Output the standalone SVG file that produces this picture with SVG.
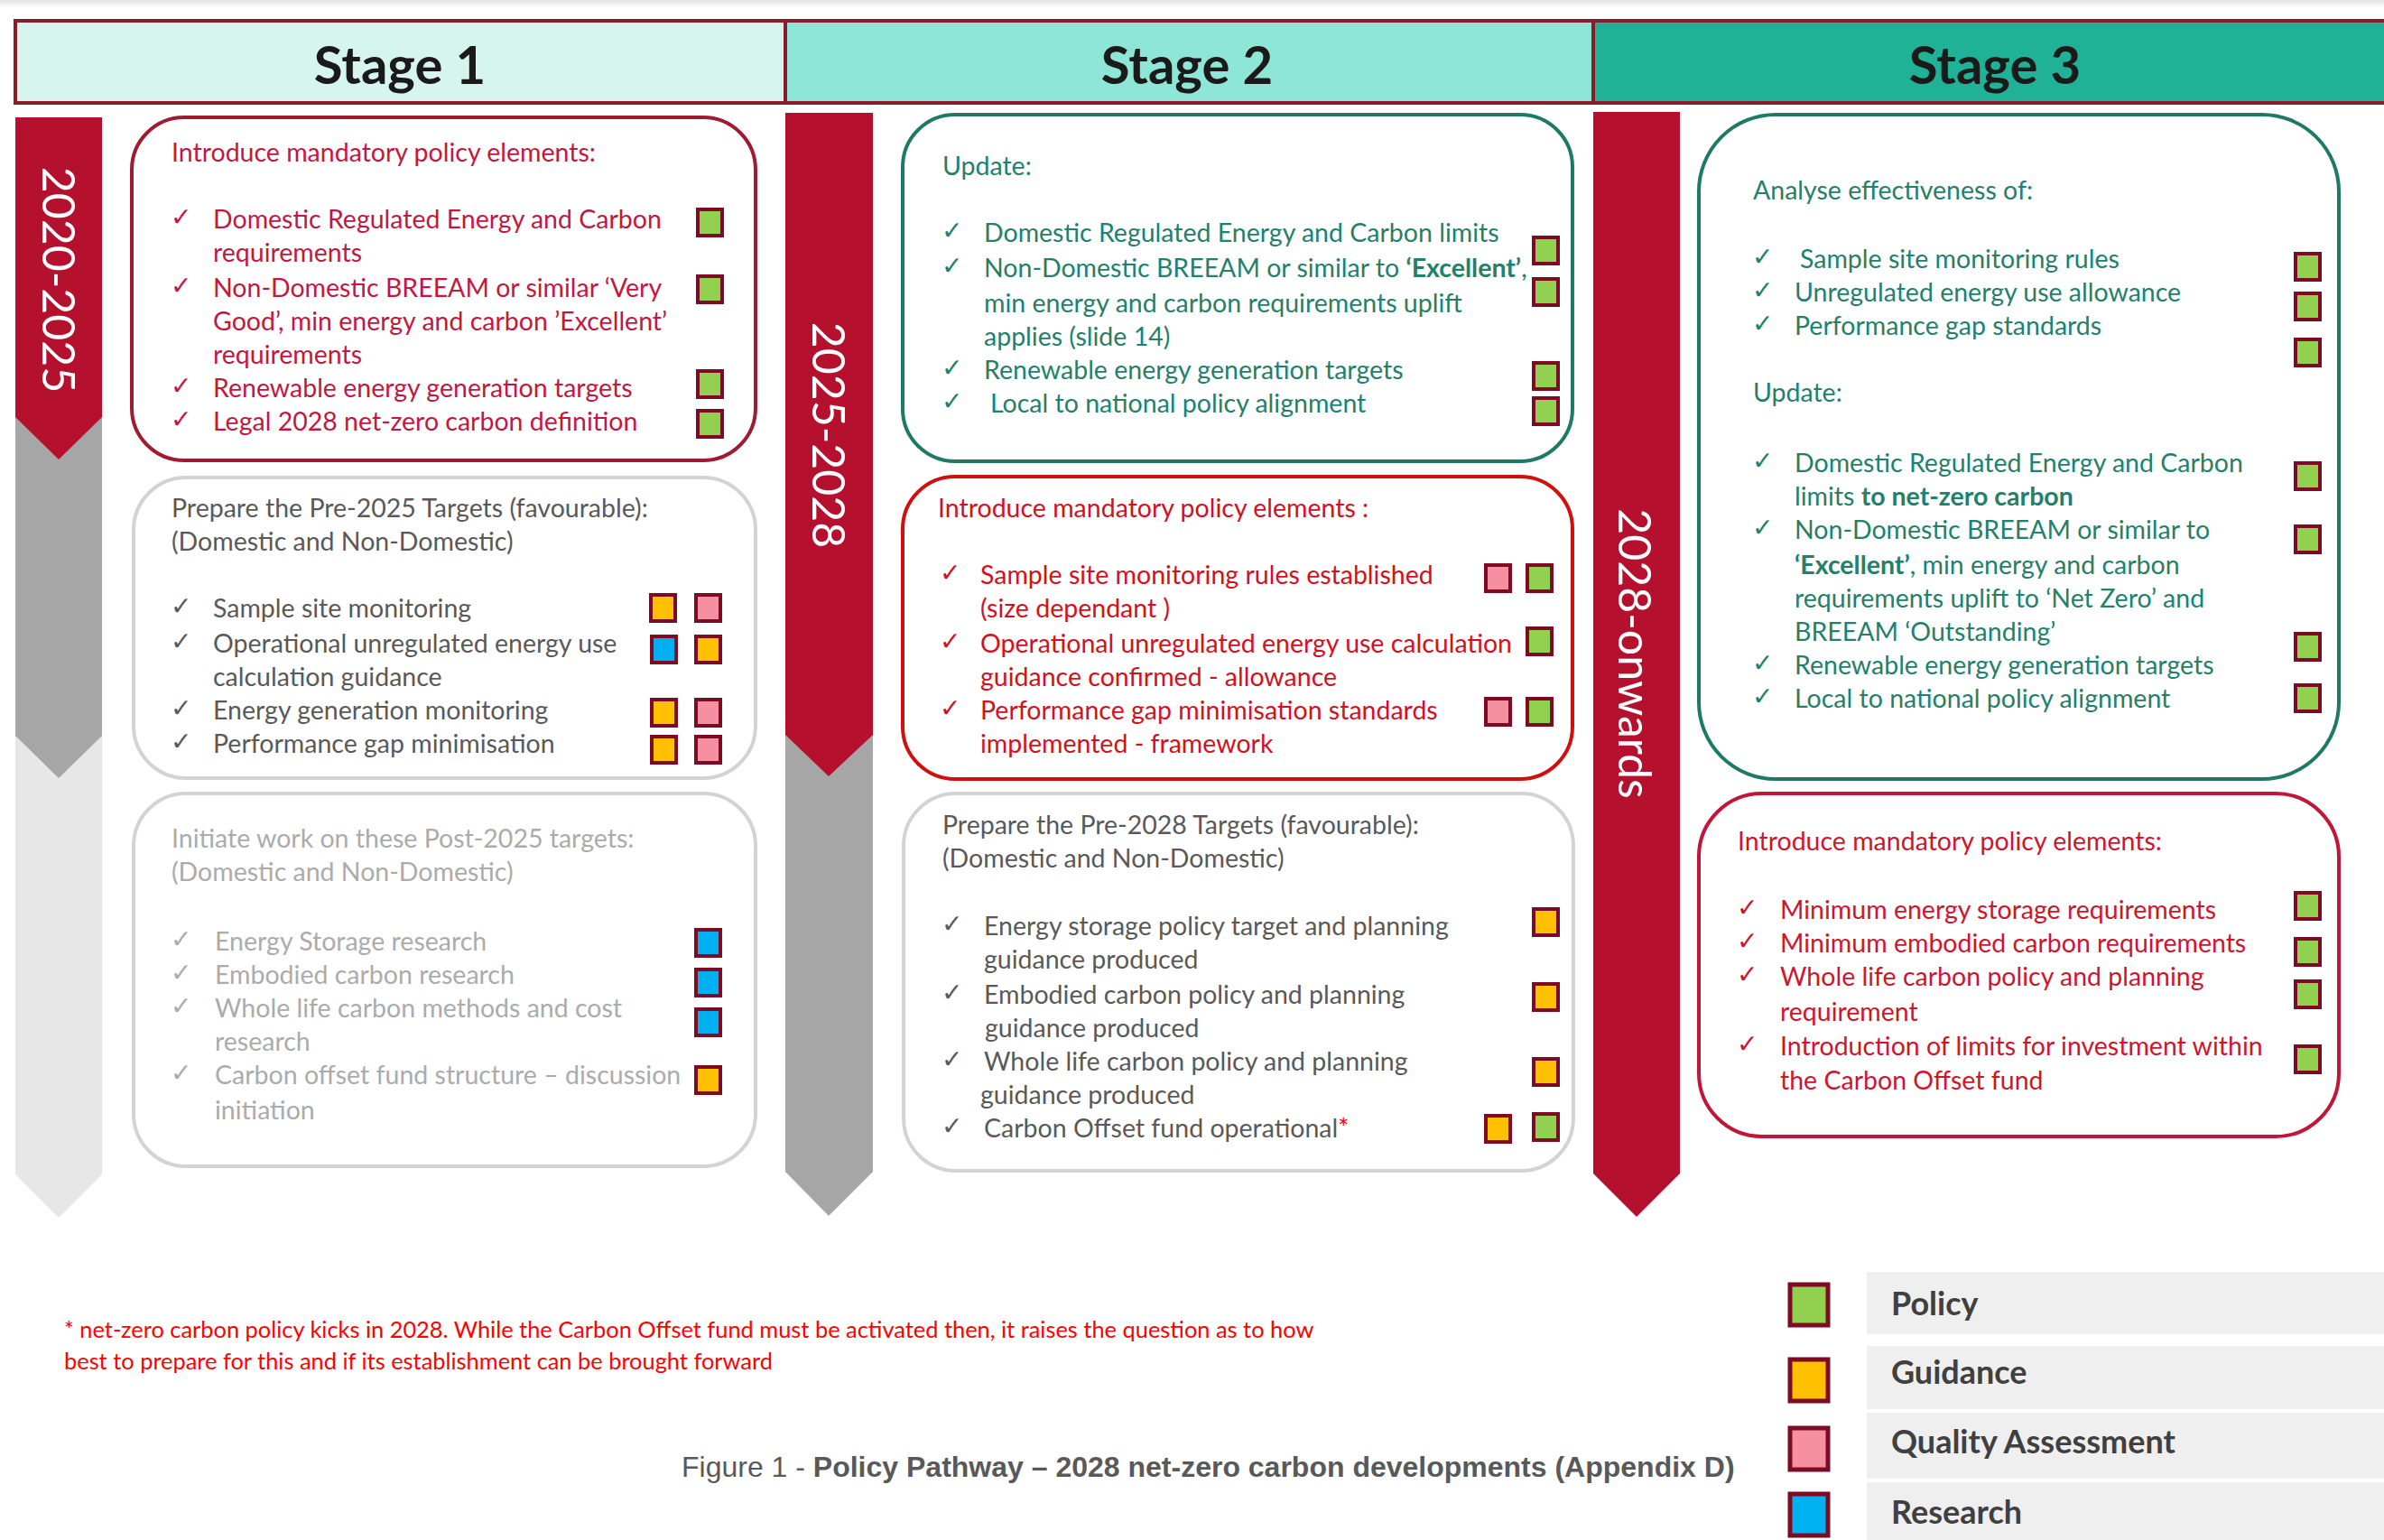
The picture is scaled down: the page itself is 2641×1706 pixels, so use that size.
<svg xmlns="http://www.w3.org/2000/svg" width="2641" height="1706" viewBox="0 0 2641 1706">
<defs>
<linearGradient id="topfade" x1="0" y1="0" x2="0" y2="1"><stop offset="0" stop-color="#E2E2E2"/><stop offset="1" stop-color="#FFFFFF"/></linearGradient>
<style>
.t{font-family:Lato,"Liberation Sans",sans-serif;font-size:28.5px}
.ck{font-family:"DejaVu Sans",sans-serif;font-size:28px}
.r1{fill:#C4173F}.r2{fill:#D41020}.r3{fill:#D0142C}.tl{fill:#22806B}.gy{fill:#595959}.lg{fill:#ABABAB}
.b{font-weight:bold}
.hdr{font-family:Lato,"Liberation Sans",sans-serif;font-size:58px;font-weight:bold;fill:#1A1A1A;text-anchor:middle}
.yr{font-family:Lato,"Liberation Sans",sans-serif;font-size:50px;fill:#FFFFFF;text-anchor:middle}
.sq{stroke:#7F0A23;stroke-width:4}
.lsq{stroke:#7F0A23;stroke-width:5}
.G{fill:#92D050}.O{fill:#FFC000}.P{fill:#F4909F}.B{fill:#00B0F0}
.box{fill:#FFFFFF;stroke-width:4}
.leg{font-family:Lato,"Liberation Sans",sans-serif;font-size:36px;font-weight:bold;fill:#404040}
</style>
</defs>
<rect x="0" y="0" width="2641" height="1706" fill="#FFFFFF"/>
<rect x="0" y="0" width="2641" height="9" fill="url(#topfade)"/>

<g id="header">
<rect x="17" y="23" width="853" height="91" fill="#D6F5EF"/>
<rect x="870" y="23" width="895" height="91" fill="#8EE6D6"/>
<rect x="1765" y="23" width="880" height="91" fill="#20B296"/>
<rect x="17" y="23" width="2630" height="91" fill="none" stroke="#8B1A2B" stroke-width="4"/>
<line x1="870" y1="23" x2="870" y2="114" stroke="#8B1A2B" stroke-width="4"/>
<line x1="1765" y1="23" x2="1765" y2="114" stroke="#8B1A2B" stroke-width="4"/>
<text class="hdr" x="443" y="93">Stage 1</text>
<text class="hdr" x="1315" y="93">Stage 2</text>
<text class="hdr" x="2210" y="93">Stage 3</text>
</g>

<g id="timeline">
<polygon points="17,130 113,130 113,1301 65,1349 17,1301" fill="#E7E7E7"/>
<polygon points="17,130 113,130 113,815 65,862 17,815" fill="#A6A6A6"/>
<polygon points="17,130 113,130 113,462 65,509 17,462" fill="#B5112F"/>
<text class="yr" transform="translate(65,310) rotate(90)" x="0" y="18">2020-2025</text>
<polygon points="870,125 967,125 967,1298 918,1347 870,1298" fill="#A6A6A6"/>
<polygon points="870,125 967,125 967,814 918,860 870,814" fill="#B5112F"/>
<text class="yr" transform="translate(918,482) rotate(90)" x="0" y="18">2025-2028</text>
<polygon points="1765,124 1861,124 1861,1300 1813,1348 1765,1300" fill="#B5112F"/>
<text class="yr" transform="translate(1811,724) rotate(90)" x="0" y="18">2028-onwards</text>
</g>

<g id="s1-mandatory">
<rect class="box" x="146" y="130" width="691" height="380" rx="58" stroke="#9E1B32"/>
<text class="t r1" x="190" y="179">Introduce mandatory policy elements:</text>
<g class="ck r1"><text x="189" y="250">✓</text><text x="189" y="326">✓</text><text x="189" y="437">✓</text><text x="189" y="474">✓</text></g>
<text class="t r1" x="236" y="253">Domestic Regulated Energy and Carbon</text>
<text class="t r1" x="236" y="290">requirements</text>
<text class="t r1" x="236" y="329">Non-Domestic BREEAM or similar ‘Very</text>
<text class="t r1" x="236" y="366">Good’, min energy and carbon ’Excellent’</text>
<text class="t r1" x="236" y="403">requirements</text>
<text class="t r1" x="236" y="440">Renewable energy generation targets</text>
<text class="t r1" x="236" y="477">Legal 2028 net-zero carbon definition</text>
<rect class="sq G" x="773" y="232" width="27" height="29"/>
<rect class="sq G" x="773" y="306" width="27" height="29"/>
<rect class="sq G" x="773" y="411" width="27" height="29"/>
<rect class="sq G" x="773" y="455" width="27" height="29"/>
</g>

<g id="s1-prepare">
<rect class="box" x="148" y="529" width="689" height="333" rx="58" stroke="#D3D3D3"/>
<text class="t gy" x="190" y="573">Prepare the Pre-2025 Targets (favourable):</text>
<text class="t gy" x="190" y="610">(Domestic and Non-Domestic)</text>
<g class="ck gy"><text x="189" y="681">✓</text><text x="189" y="720">✓</text><text x="189" y="794">✓</text><text x="189" y="831">✓</text></g>
<text class="t gy" x="236" y="684">Sample site monitoring</text>
<text class="t gy" x="236" y="723">Operational unregulated energy use</text>
<text class="t gy" x="236" y="760">calculation guidance</text>
<text class="t gy" x="236" y="797">Energy generation monitoring</text>
<text class="t gy" x="236" y="834">Performance gap minimisation</text>
<rect class="sq O" x="721" y="659" width="27" height="29"/><rect class="sq P" x="771" y="659" width="27" height="29"/>
<rect class="sq B" x="722" y="705" width="27" height="29"/><rect class="sq O" x="771" y="705" width="27" height="29"/>
<rect class="sq O" x="722" y="775" width="27" height="29"/><rect class="sq P" x="771" y="775" width="27" height="29"/>
<rect class="sq O" x="722" y="816" width="27" height="29"/><rect class="sq P" x="771" y="816" width="27" height="29"/>
</g>

<g id="s1-initiate">
<rect class="box" x="148" y="879" width="689" height="413" rx="58" stroke="#D3D3D3"/>
<text class="t lg" x="190" y="939">Initiate work on these Post-2025 targets:</text>
<text class="t lg" x="190" y="976">(Domestic and Non-Domestic)</text>
<g class="ck lg"><text x="189" y="1050">✓</text><text x="189" y="1087">✓</text><text x="189" y="1124">✓</text><text x="189" y="1198">✓</text></g>
<text class="t lg" x="238" y="1053">Energy Storage research</text>
<text class="t lg" x="238" y="1090">Embodied carbon research</text>
<text class="t lg" x="238" y="1127">Whole life carbon methods and cost</text>
<text class="t lg" x="238" y="1164">research</text>
<text class="t lg" x="238" y="1201">Carbon offset fund structure – discussion</text>
<text class="t lg" x="238" y="1240">initiation</text>
<rect class="sq B" x="771" y="1030" width="27" height="29"/>
<rect class="sq B" x="771" y="1074" width="27" height="29"/>
<rect class="sq B" x="771" y="1118" width="27" height="29"/>
<rect class="sq O" x="771" y="1182" width="27" height="29"/>
</g>

<g id="s2-update">
<rect class="box" x="1000" y="127" width="742" height="384" rx="58" stroke="#1E7A66"/>
<text class="t tl" x="1044" y="194">Update:</text>
<g class="ck tl"><text x="1043" y="265">✓</text><text x="1043" y="304">✓</text><text x="1043" y="417">✓</text><text x="1043" y="454">✓</text></g>
<text class="t tl" x="1090" y="268">Domestic Regulated Energy and Carbon limits</text>
<text class="t tl" x="1090" y="307">Non-Domestic BREEAM or similar to <tspan class="b">‘Excellent’</tspan>,</text>
<text class="t tl" x="1090" y="346">min energy and carbon requirements uplift</text>
<text class="t tl" x="1090" y="383">applies (slide 14)</text>
<text class="t tl" x="1090" y="420">Renewable energy generation targets</text>
<text class="t tl" x="1097" y="457">Local to national policy alignment</text>
<rect class="sq G" x="1699" y="263" width="27" height="29"/>
<rect class="sq G" x="1699" y="309" width="27" height="29"/>
<rect class="sq G" x="1699" y="402" width="27" height="29"/>
<rect class="sq G" x="1699" y="441" width="27" height="29"/>
</g>

<g id="s2-mandatory">
<rect class="box" x="1000" y="528" width="742" height="335" rx="58" stroke="#D00F0F"/>
<text class="t r2" x="1039" y="573">Introduce mandatory policy elements :</text>
<g class="ck r2"><text x="1041" y="644">✓</text><text x="1041" y="720">✓</text><text x="1041" y="794">✓</text></g>
<text class="t r2" x="1086" y="647">Sample site monitoring rules established</text>
<text class="t r2" x="1086" y="684">(size dependant )</text>
<text class="t r2" x="1086" y="723">Operational unregulated energy use calculation</text>
<text class="t r2" x="1086" y="760">guidance confirmed - allowance</text>
<text class="t r2" x="1086" y="797">Performance gap minimisation standards</text>
<text class="t r2" x="1086" y="834">implemented - framework</text>
<rect class="sq P" x="1646" y="626" width="27" height="29"/><rect class="sq G" x="1692" y="626" width="27" height="29"/>
<rect class="sq G" x="1692" y="696" width="27" height="29"/>
<rect class="sq P" x="1646" y="774" width="27" height="29"/><rect class="sq G" x="1692" y="774" width="27" height="29"/>
</g>

<g id="s2-prepare">
<rect class="box" x="1001" y="879" width="742" height="418" rx="58" stroke="#D3D3D3"/>
<text class="t gy" x="1044" y="924">Prepare the Pre-2028 Targets (favourable):</text>
<text class="t gy" x="1044" y="961">(Domestic and Non-Domestic)</text>
<g class="ck gy"><text x="1043" y="1033">✓</text><text x="1043" y="1109">✓</text><text x="1043" y="1183">✓</text><text x="1043" y="1257">✓</text></g>
<text class="t gy" x="1090" y="1036">Energy storage policy target and planning</text>
<text class="t gy" x="1090" y="1073">guidance produced</text>
<text class="t gy" x="1090" y="1112">Embodied carbon policy and planning</text>
<text class="t gy" x="1091" y="1149">guidance produced</text>
<text class="t gy" x="1090" y="1186">Whole life carbon policy and planning</text>
<text class="t gy" x="1086" y="1223">guidance produced</text>
<text class="t gy" x="1090" y="1260">Carbon Offset fund operational<tspan fill="#FF0000">*</tspan></text>
<rect class="sq O" x="1699" y="1007" width="27" height="29"/>
<rect class="sq O" x="1699" y="1090" width="27" height="29"/>
<rect class="sq O" x="1699" y="1173" width="27" height="29"/>
<rect class="sq O" x="1646" y="1236" width="27" height="29"/><rect class="sq G" x="1699" y="1234" width="27" height="29"/>
</g>

<g id="s3-analyse">
<rect class="box" x="1882" y="127" width="709" height="736" rx="85" stroke="#1E7A66"/>
<text class="t tl" x="1942" y="221">Analyse effectiveness of:</text>
<g class="ck tl"><text x="1941" y="294">✓</text><text x="1941" y="331">✓</text><text x="1941" y="368">✓</text><text x="1941" y="520">✓</text><text x="1941" y="594">✓</text><text x="1941" y="744">✓</text><text x="1941" y="781">✓</text></g>
<text class="t tl" x="1994" y="297">Sample site monitoring rules</text>
<text class="t tl" x="1988" y="334">Unregulated energy use allowance</text>
<text class="t tl" x="1988" y="371">Performance gap standards</text>
<text class="t tl" x="1942" y="445">Update:</text>
<text class="t tl" x="1988" y="523">Domestic Regulated Energy and Carbon</text>
<text class="t tl" x="1988" y="560">limits <tspan class="b">to  net-zero carbon</tspan></text>
<text class="t tl" x="1988" y="597">Non-Domestic BREEAM or similar to</text>
<text class="t tl" x="1988" y="636"><tspan class="b">‘Excellent’</tspan>, min energy and carbon</text>
<text class="t tl" x="1988" y="673">requirements uplift to ‘Net Zero’ and</text>
<text class="t tl" x="1988" y="710">BREEAM ‘Outstanding’</text>
<text class="t tl" x="1988" y="747">Renewable energy generation targets</text>
<text class="t tl" x="1988" y="784">Local to national policy alignment</text>
<rect class="sq G" x="2543" y="281" width="27" height="29"/>
<rect class="sq G" x="2543" y="325" width="27" height="29"/>
<rect class="sq G" x="2543" y="376" width="27" height="29"/>
<rect class="sq G" x="2543" y="513" width="27" height="29"/>
<rect class="sq G" x="2543" y="583" width="27" height="29"/>
<rect class="sq G" x="2543" y="702" width="27" height="29"/>
<rect class="sq G" x="2543" y="759" width="27" height="29"/>
</g>

<g id="s3-mandatory">
<rect class="box" x="1882" y="879" width="709" height="380" rx="70" stroke="#C0163A"/>
<text class="t r3" x="1925" y="942">Introduce mandatory policy elements:</text>
<g class="ck r3"><text x="1924" y="1015">✓</text><text x="1924" y="1052">✓</text><text x="1924" y="1089">✓</text><text x="1924" y="1166">✓</text></g>
<text class="t r3" x="1972" y="1018">Minimum energy storage requirements</text>
<text class="t r3" x="1972" y="1055">Minimum embodied carbon requirements</text>
<text class="t r3" x="1972" y="1092">Whole life carbon policy and planning</text>
<text class="t r3" x="1972" y="1131">requirement</text>
<text class="t r3" x="1972" y="1169">Introduction of limits for investment within</text>
<text class="t r3" x="1972" y="1207">the Carbon Offset fund</text>
<rect class="sq G" x="2543" y="989" width="27" height="29"/>
<rect class="sq G" x="2543" y="1040" width="27" height="29"/>
<rect class="sq G" x="2543" y="1087" width="27" height="29"/>
<rect class="sq G" x="2543" y="1159" width="27" height="29"/>
</g>

<g id="footnote">
<text class="t" style="font-size:25.4px;fill:#FF0000" x="71" y="1482">* net-zero carbon policy kicks in 2028. While the Carbon Offset fund must be activated then, it raises the question as to how</text>
<text class="t" style="font-size:25.4px;fill:#FF0000" x="71" y="1517">best to prepare for this and if its establishment can be brought forward</text>
</g>

<g id="caption">
<text x="755" y="1636" style="font-family:'Liberation Sans',Arial,sans-serif;font-size:32px;fill:#595959">Figure 1 - <tspan font-weight="bold">Policy Pathway – 2028 net-zero carbon developments (Appendix D)</tspan></text>
</g>

<g id="legend">
<rect x="2068" y="1409" width="573" height="69" fill="#EFEFEF"/>
<rect x="2068" y="1491" width="573" height="70" fill="#EFEFEF"/>
<rect x="2068" y="1565" width="573" height="73" fill="#EFEFEF"/>
<rect x="2068" y="1642" width="573" height="64" fill="#EFEFEF"/>
<rect class="lsq G" x="1983" y="1423" width="42" height="45"/>
<rect class="lsq O" x="1983" y="1506" width="42" height="46"/>
<rect class="lsq P" x="1983" y="1582" width="42" height="46"/>
<rect class="lsq B" x="1983" y="1655" width="42" height="46"/>
<text class="leg" x="2095" y="1457">Policy</text>
<text class="leg" x="2095" y="1533">Guidance</text>
<text class="leg" x="2095" y="1610">Quality Assessment</text>
<text class="leg" x="2095" y="1688">Research</text>
</g>
</svg>
